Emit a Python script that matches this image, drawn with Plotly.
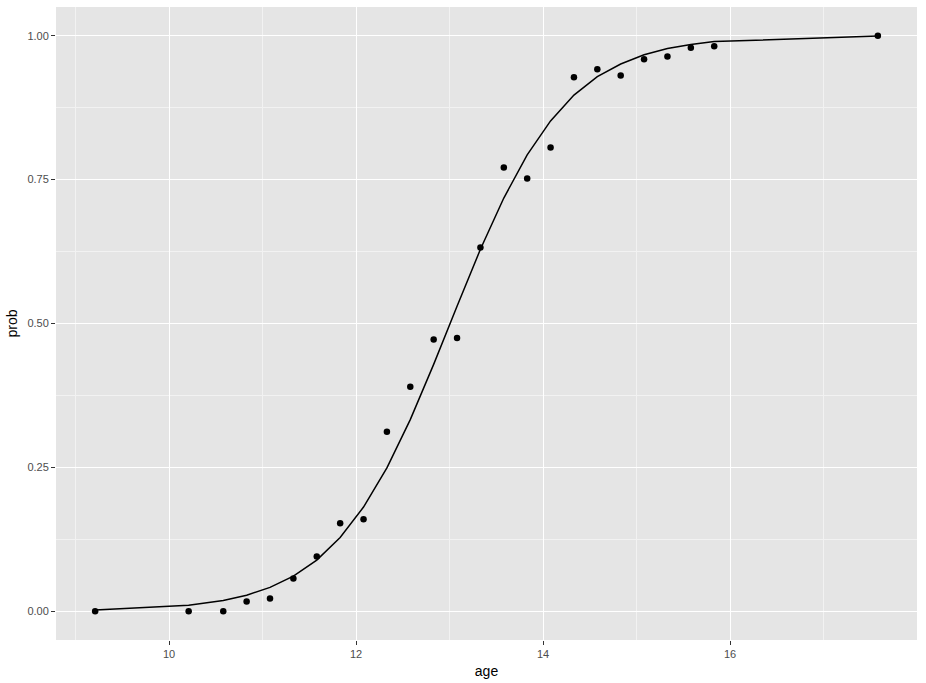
import plotly.graph_objs as go

# menarche data: age, observed proportion, fitted logistic curve
age = [9.21, 10.21, 10.58, 10.83, 11.08, 11.33, 11.58, 11.83, 12.08, 12.33,
       12.58, 12.83, 13.08, 13.33, 13.58, 13.83, 14.08, 14.33, 14.58, 14.83,
       15.08, 15.33, 15.58, 15.83, 17.58]
prob = [0.0, 0.0, 0.0, 0.0167, 0.0222, 0.0568, 0.0952, 0.153, 0.16, 0.312,
        0.39, 0.472, 0.475, 0.632, 0.771, 0.752, 0.806, 0.928, 0.942, 0.931,
        0.959, 0.964, 0.979, 0.982, 1.0]
fitted = [0.002, 0.0103, 0.0187, 0.0279, 0.0414, 0.0609, 0.0889, 0.128, 0.181, 0.249,
          0.333, 0.429, 0.530, 0.629, 0.718, 0.793, 0.852, 0.897, 0.929, 0.951,
          0.967, 0.978, 0.985, 0.990, 0.9994]

x_ticks = [10, 12, 14, 16]
y_ticks = [0, 0.25, 0.5, 0.75, 1.0]
y_labels = ['0.00', '0.25', '0.50', '0.75', '1.00']

trace_pts = go.Scatter(
    x=age, y=prob, mode='markers',
    marker=dict(color='black', size=6.5),
    showlegend=False)

trace_fit = go.Scatter(
    x=age, y=fitted, mode='lines',
    line=dict(color='black', width=1.5),
    showlegend=False)

minor_x = dict(tickvals=[9, 11, 13, 15, 17], showgrid=True, gridcolor='#f2f2f2', gridwidth=0.6)

layout = go.Layout(
    width=926, height=683,
    margin=dict(l=56, r=9, t=7, b=41),
    paper_bgcolor='white',
    plot_bgcolor='#e5e5e5',
    font=dict(family='Liberation Sans, Arial, sans-serif', color='#4d4d4d'),
    xaxis=dict(
        title=dict(text='age', font=dict(size=14, color='black'), standoff=6),
        range=[8.7915, 17.9985],
        tickvals=x_ticks, ticktext=[str(t) for t in x_ticks],
        tickfont=dict(size=11, color='#4d4d4d'),
        ticks='outside', ticklen=4, tickcolor='#333333',
        gridcolor='white', gridwidth=1.3,
        minor=minor_x,
        zeroline=False, showline=False),
    yaxis=dict(
        title=dict(text='prob', font=dict(size=14, color='black'), standoff=6),
        range=[-0.05, 1.05],
        tickvals=y_ticks, ticktext=y_labels,
        tickfont=dict(size=11, color='#4d4d4d'),
        ticks='outside', ticklen=4, tickcolor='#333333',
        gridcolor='white', gridwidth=1.3,
        minor=dict(tickvals=[0.125, 0.375, 0.625, 0.875], showgrid=True,
                   gridcolor='#f2f2f2', gridwidth=0.6),
        zeroline=False, showline=False),
)

fig = go.Figure(data=[trace_fit, trace_pts], layout=layout)
# drop the page's default body margin so the figure fills the window
fig.write_html("out.html", config={'displayModeBar': False},
               post_script="document.body.style.margin='0';")
